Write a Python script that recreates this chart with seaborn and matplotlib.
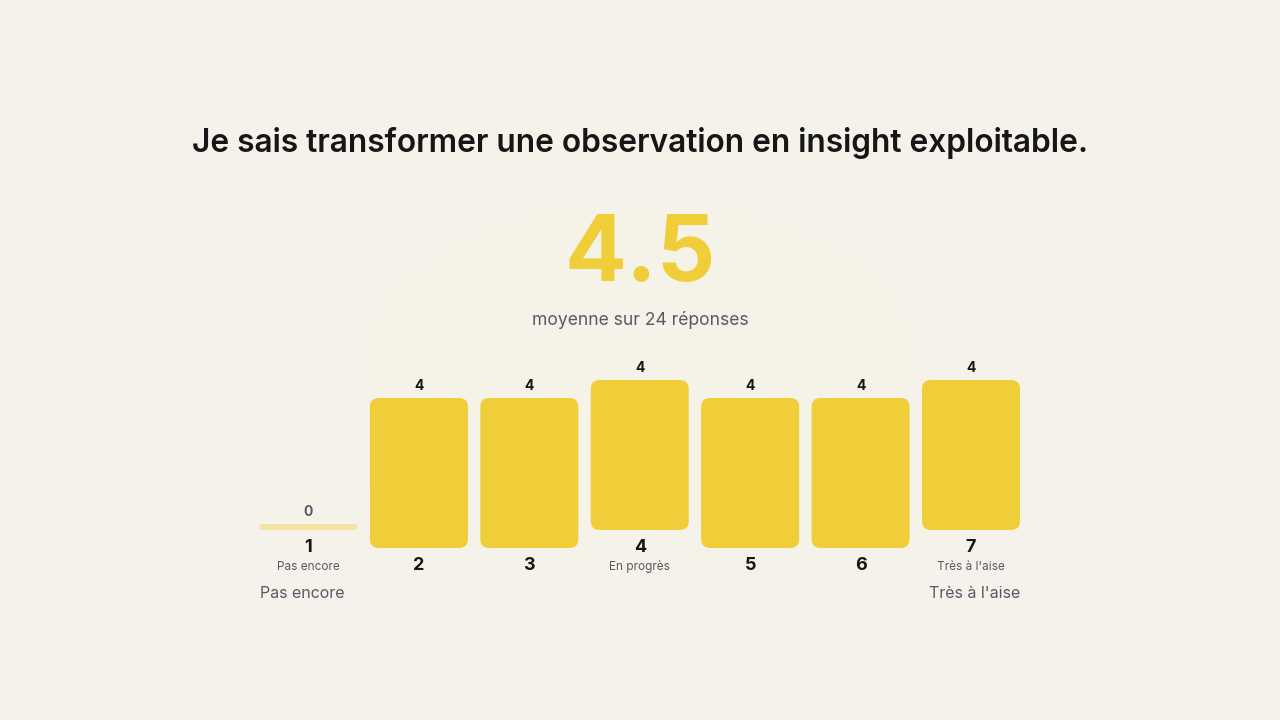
import matplotlib.pyplot as plt
import numpy as np
import pandas as pd
import seaborn as sns
from matplotlib.patches import FancyBboxPatch

# --- data ---
scores = ["1", "2", "3", "4", "5", "6", "7"]
counts = [0, 4, 4, 4, 4, 4, 4]
sub_labels = ["Pas encore", "", "", "En progrès", "", "", "Très à l'aise"]
title = "Je sais transformer une observation en insight exploitable."
mean_value = "4.5"
mean_caption = "moyenne sur 24 réponses"
scale_left = "Pas encore"
scale_right = "Très à l'aise"

YELLOW = "#f0ce3a"
PALE = "#f4e4a4"
DARK = "#161616"
GREY = "#585a66"
BG = "#f5f3ec"

sns.set_theme(style="white")
plt.rcParams["font.family"] = ["Inter", "DejaVu Sans"]

fig = plt.figure(figsize=(12.8, 7.2), dpi=100, facecolor=BG)

# soft radial glow behind everything
bg_ax = fig.add_axes([0, 0, 1, 1], zorder=-10)
yy, xx = np.mgrid[0:720, 0:1280]
r2 = ((xx - 640) / 520) ** 2 + ((yy - 360) / 300) ** 2
glow = np.exp(-1.5 * r2)
c_edge = np.array([245, 243, 237]) / 255
c_mid = np.array([246, 242, 231]) / 255
img = c_edge + (c_mid - c_edge) * glow[..., None]
bg_ax.imshow(img, aspect="auto", extent=[0, 1, 0, 1])
bg_ax.axis("off")

# headline texts
fig.text(0.5, 1 - 143 / 720, title, ha="center", va="center",
         fontsize=22.8, fontweight="semibold", color=DARK)
fig.text(0.5, 1 - 257 / 720, mean_value, ha="center", va="center",
         fontsize=66, fontweight="bold", color=YELLOW)
fig.text(0.5, 1 - 320 / 720, mean_caption, ha="center", va="center",
         fontsize=12.6, color=GREY)

# bar area: 37.5 px per response, 110.4 px per category
px_y = 37.5
px_x = 110.4
ax = fig.add_axes([253.3 / 1280, 110 / 720, 772.9 / 1280, 255 / 720])
ax.set_facecolor("none")

df = pd.DataFrame({"score": scores, "count": counts})
bar_w = 98 / px_x
sns.barplot(data=df, x="score", y="count", color=YELLOW, width=bar_w,
            saturation=1, ax=ax)

ax.set_xlim(-0.5, len(scores) - 0.5)
ax.set_ylim(-62 / px_y, 193 / px_y)
ax.axis("off")

shift = 18 / px_y
min_h = 6 / px_y
radius = 9 / px_x
aspect = px_x / px_y

patches = list(ax.patches)
for i, p in enumerate(patches):
    x0, w, h = p.get_x(), p.get_width(), p.get_height()
    p.remove()
    base = shift if sub_labels[i] else 0
    if h <= 0:
        h = min_h
        color, rad = PALE, 3 / px_x
    else:
        color, rad = YELLOW, radius
    ax.add_patch(FancyBboxPatch((x0, base), w, h,
                                boxstyle=f"round,pad=0,rounding_size={rad}",
                                mutation_aspect=aspect, fc=color, ec="none"))
    cx = x0 + w / 2
    top = base + h
    ax.text(cx, top + 12 / px_y, str(counts[i]), ha="center", va="center",
            fontsize=10, fontweight="bold",
            color=GREY if counts[i] == 0 else DARK)
    ax.text(cx, base - 17 / px_y, scores[i], ha="center", va="center",
            fontsize=13, fontweight="bold", color=DARK)
    if sub_labels[i]:
        ax.text(cx, base - 37 / px_y, sub_labels[i], ha="center", va="center",
                fontsize=8.5, color=GREY)

ax.text(-bar_w / 2, -46 / px_y, scale_left, ha="left", va="center",
        fontsize=11.5, color=GREY)
ax.text(len(scores) - 1 + bar_w / 2, -46 / px_y, scale_right, ha="right",
        va="center", fontsize=11.5, color=GREY)

fig.savefig("out.png", dpi=100, facecolor=BG)
